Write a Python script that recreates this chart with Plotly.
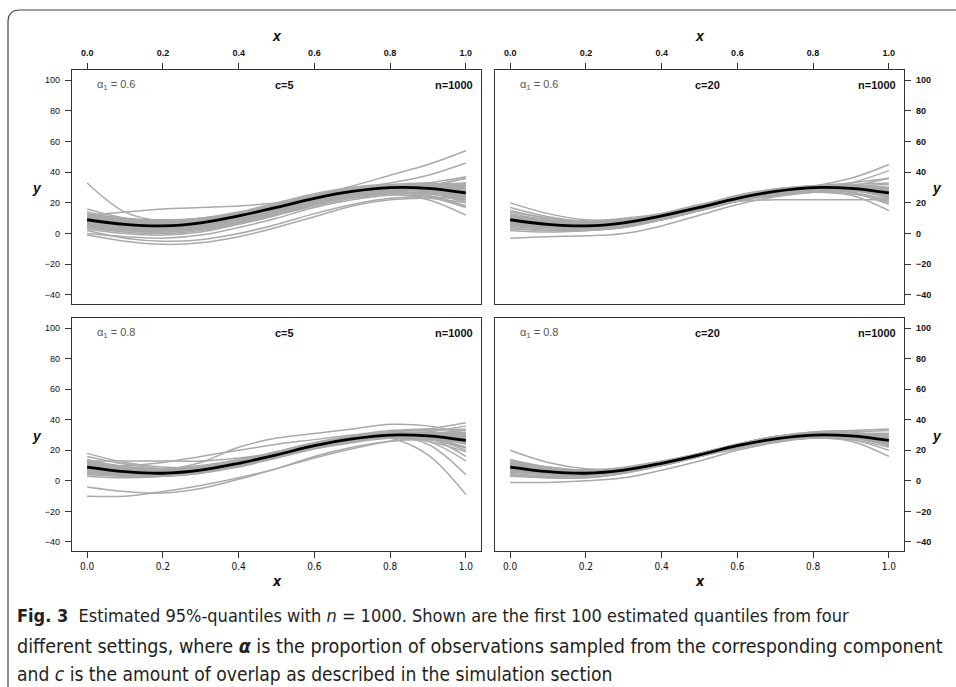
import plotly.graph_objects as go

W, H = 956, 687

# ---------------- data ----------------
x_grid = [0.0, 0.1, 0.2, 0.3, 0.4, 0.5, 0.6, 0.7, 0.8, 0.9, 1.0]
true_quantile = [9, 6, 5, 7, 11.5, 17, 23, 27.5, 30, 29.5, 26.5]

# alpha1 = 0.6, c = 5
est_a06_c5 = [
    [33, 14, 8, 8, 11, 16, 22, 26, 29, 29, 28],
    [16, 10, 8, 9, 12, 16, 21, 25, 28, 30, 33],
    [12, 14, 16, 17, 18, 20, 22, 25, 28, 31, 36],
    [2, -3, -5, -4, 0, 6, 13, 19, 23, 24, 22],
    [-1, -5, -7, -6, -2, 4, 11, 18, 22, 23, 20],
    [5, 2, 1, 3, 7, 13, 19, 24, 27, 28, 26],
    [8, 5, 4, 6, 10, 16, 22, 27, 30, 32, 33],
    [11, 7, 6, 8, 12, 18, 24, 29, 32, 33, 31],
    [6, 3, 2, 4, 8, 14, 21, 26, 29, 29, 25],
    [10, 6, 5, 7, 11, 17, 23, 27, 29, 27, 21],
    [7, 4, 3, 5, 9, 15, 21, 25, 27, 25, 18],
    [12, 8, 7, 9, 13, 18, 24, 28, 30, 29, 24],
    [4, 1, 0, 2, 6, 12, 18, 23, 26, 27, 27],
    [9, 6, 5, 7, 11, 17, 23, 28, 31, 33, 37],
    [14, 9, 7, 8, 11, 16, 21, 25, 28, 31, 36],
    [3, 0, -1, 1, 6, 12, 19, 24, 27, 26, 22],
    [8, 5, 4, 6, 10, 15, 21, 25, 27, 26, 23],
    [10, 7, 7, 9, 13, 19, 25, 29, 31, 30, 26],
    [6, 4, 4, 6, 10, 15, 20, 24, 27, 29, 30],
    [11, 7, 5, 6, 9, 14, 20, 25, 28, 28, 25],
    [10, 7, 7, 9, 13, 19, 25, 31, 38, 45, 54],
    [12, 9, 8, 10, 14, 20, 26, 30, 33, 38, 46],
    [0, -2, -3, -1, 4, 10, 17, 22, 25, 24, 18],
    [5, 3, 3, 5, 9, 14, 20, 24, 26, 22, 12],
    [7, 5, 5, 7, 11, 17, 22, 26, 27, 24, 17],
    [10, 8, 8, 10, 13, 18, 23, 27, 30, 31, 30],
    [13, 10, 9, 10, 13, 18, 23, 27, 29, 28, 23],
    [4, 2, 1, 3, 7, 13, 20, 25, 28, 30, 32],
    [8, 4, 2, 3, 7, 13, 20, 26, 29, 30, 28],
    [6, 5, 5, 8, 12, 18, 24, 28, 29, 27, 20],
    [9.5, 6.5, 5.5, 7.5, 11.5, 17.5, 23.5, 28, 30.5, 30, 27],
    [7.5, 4.5, 3.5, 5.5, 10, 16, 22, 26.5, 29, 28.5, 25],
    [10.5, 7.5, 6.5, 8.5, 12.5, 18, 24, 28.5, 31, 31, 29],
    [8.5, 5.5, 4.5, 6.5, 11, 16.5, 22.5, 27, 29.5, 29.5, 28],
    [11.5, 8.5, 7.5, 9, 12.5, 17.5, 23, 27.5, 30, 29, 24.5],
    [6.5, 3.5, 2.5, 4.5, 9, 15, 21.5, 26.5, 29.5, 30.5, 31],
    [9, 5.5, 4, 5.5, 9.5, 15.5, 22, 27, 30, 30, 27.5],
    [12.5, 9.5, 8, 9.5, 13, 18.5, 24.5, 28.5, 30.5, 29.5, 26],
    [5.5, 2.5, 1.5, 3.5, 8, 14.5, 21, 26, 28.5, 28, 24],
    [8, 5.5, 5, 7, 11.5, 17.5, 23.5, 28, 30.5, 31.5, 32.5],
    [10, 6.5, 5.5, 7, 11, 16.5, 22.5, 27.5, 30.5, 31.5, 31],
    [7, 4.5, 4, 6, 10.5, 16.5, 22.5, 27, 29, 27.5, 22.5],
]

# alpha1 = 0.6, c = 20
est_a06_c20 = [
    [20, 13, 9, 9, 12, 17, 23, 27, 30, 30, 28],
    [-3, -2, -1.5, 0, 5, 12, 19, 24, 27, 28, 26],
    [15, 10, 8, 9, 13, 18, 24, 28, 31, 33, 36],
    [5, 3, 3, 5, 9, 15, 21, 26, 28, 28, 24],
    [12, 8, 6, 8, 12, 17, 23, 28, 30, 30, 27],
    [8, 5, 4, 6, 10, 16, 22, 27, 29, 29, 25],
    [10, 7, 6, 8, 12, 18, 24, 29, 31, 31, 29],
    [6, 4, 4, 6, 10, 16, 22, 26, 28, 27, 22],
    [9, 6, 5, 7, 11, 17, 23, 27, 30, 31, 32],
    [3, 2, 2, 4, 9, 15, 21, 26, 29, 29, 26],
    [11, 7, 5, 6, 10, 16, 22, 27, 30, 29, 24],
    [7, 5, 5, 7, 11, 16, 22, 26, 29, 30, 30],
    [13, 9, 7, 8, 12, 17, 23, 27, 29, 27, 20],
    [9, 6, 5, 7, 12, 18, 25, 29, 31, 30, 26],
    [4, 2, 2, 5, 10, 16, 22, 25, 27, 25, 15],
    [10, 7, 6, 8, 11, 16, 22, 26, 29, 31, 36],
    [8, 6, 5, 7, 11, 17, 23, 28, 31, 36, 45],
    [9, 7, 7, 9, 12, 17, 22, 26, 29, 33, 41],
    [6, 4, 3, 5, 9, 15, 21, 26, 29, 29, 27],
    [12, 9, 7, 8, 12, 17, 23, 28, 31, 31, 28],
    [2, 1, 2, 4, 9, 15, 21, 25, 28, 28, 25],
    [14, 10, 7, 8, 11, 16, 21, 25, 27, 26, 21],
    [9, 7, 6, 7, 10, 15, 21, 26, 29, 30, 28],
    [7, 5, 5, 8, 13, 19, 24, 28, 29, 27, 19],
    [10, 8, 8, 10, 13, 18, 23, 27, 30, 32, 33],
    [17, 11, 8, 8, 11, 16, 22, 27, 30, 30, 26],
    [8, 6, 6, 8, 12, 18, 24, 28, 30, 29, 23],
    [5, 4, 4, 6, 10, 16, 22, 27, 30, 31, 30],
    [8, 6, 6, 8, 12, 17, 21, 22, 22, 22, 22],
    [9.5, 6.5, 5.5, 7.5, 11.5, 17.5, 23.5, 28, 30.5, 30, 27],
    [8.5, 5.5, 4.5, 6.5, 11, 16.5, 22.5, 27, 29.5, 29, 26],
    [10.5, 7, 6, 7.5, 11.5, 17, 23, 27.5, 30, 30, 28],
    [7.5, 5, 4.5, 6.5, 10.5, 16.5, 22.5, 27, 29.5, 29.5, 27.5],
    [11, 7.5, 6, 7.5, 11.5, 17.5, 23.5, 28, 30.5, 30.5, 27],
    [6.5, 4.5, 4, 6, 10.5, 16, 22, 26.5, 29, 28.5, 24.5],
    [9, 6.5, 6, 8, 12, 17.5, 23.5, 28, 30, 29, 25],
    [10, 6.5, 5, 6.5, 10.5, 16.5, 22.5, 27.5, 30.5, 31, 30],
    [8, 5.5, 5, 7, 11.5, 17, 23, 27.5, 29.5, 28.5, 24],
    [9, 6, 5, 6.5, 10.5, 16, 22, 27, 30, 30.5, 29],
    [11.5, 8, 6.5, 8, 12, 17.5, 23, 27.5, 29.5, 28.5, 23],
    [7, 5, 4.5, 6.5, 11, 17, 23.5, 28.5, 31, 30.5, 26.5],
]

# alpha1 = 0.8, c = 5
est_a08_c5 = [
    [-10, -10, -7, -3, 2, 8, 15, 21, 26, 28, 27],
    [-4, -7, -8, -5, 1, 8, 16, 22, 26, 27, 25],
    [18, 12, 9, 9, 12, 17, 22, 26, 29, 30, 29],
    [8, 5, 7, 12, 22, 28, 31, 34, 37, 36, 31],
    [10, 10, 12, 16, 20, 24, 27, 30, 33, 34, 33],
    [6, 4, 4, 7, 12, 19, 25, 29, 28, 17, -9],
    [9, 6, 5, 7, 12, 18, 24, 28, 29, 24, 4],
    [7, 5, 5, 7, 11, 17, 23, 27, 29, 26, 13],
    [11, 8, 7, 9, 13, 18, 23, 28, 31, 32, 30],
    [5, 3, 3, 6, 10, 16, 22, 27, 30, 31, 28],
    [14, 9, 7, 8, 11, 16, 22, 27, 30, 30, 27],
    [8, 6, 6, 8, 12, 18, 24, 29, 32, 34, 38],
    [10, 7, 6, 8, 12, 17, 23, 27, 30, 32, 36],
    [4, 3, 3, 6, 10, 16, 22, 26, 28, 27, 22],
    [12, 8, 6, 7, 11, 16, 22, 27, 31, 31, 26],
    [6, 5, 5, 8, 12, 17, 23, 27, 28, 26, 19],
    [9, 7, 6, 8, 12, 17, 22, 26, 29, 31, 33],
    [16, 11, 8, 8, 11, 16, 21, 25, 28, 28, 25],
    [7, 4, 3, 5, 10, 16, 23, 28, 31, 30, 24],
    [10, 8, 7, 9, 13, 19, 25, 29, 31, 29, 22],
    [3, 2, 3, 5, 9, 15, 21, 26, 28, 29, 29],
    [8, 6, 5, 7, 11, 17, 23, 28, 30, 28, 20],
    [12, 9, 8, 10, 14, 19, 24, 28, 30, 29, 27],
    [6, 4, 4, 6, 10, 15, 21, 26, 29, 30, 31],
    [9, 6, 5, 7, 11, 17, 24, 29, 32, 33, 34],
    [13, 13, 13, 13, 15, 18, 22, 26, 29, 30, 28],
    [5, 5, 5, 7, 11, 16, 22, 26, 29, 28, 16],
    [9.5, 6.5, 5.5, 7.5, 12, 17.5, 23.5, 28, 30.5, 30, 27],
    [7.5, 5, 4, 6, 10.5, 16.5, 22.5, 27, 29.5, 29, 25.5],
    [11, 7.5, 6.5, 8, 12, 17.5, 23, 27.5, 30, 30.5, 29.5],
    [8.5, 5.5, 4.5, 6.5, 11, 16.5, 22.5, 27.5, 30.5, 31, 30],
    [12, 8.5, 7, 8.5, 12.5, 18, 23.5, 28, 30, 29, 24],
    [6, 4, 3.5, 5.5, 10, 16, 22.5, 27.5, 30, 29.5, 26],
    [10, 7, 6, 7.5, 11.5, 17, 23, 27.5, 30, 29.5, 26.5],
    [13, 9.5, 7.5, 8.5, 12, 17, 22.5, 27, 29.5, 29.5, 28],
    [5, 3.5, 3.5, 5.5, 10, 16, 22, 26.5, 29, 28.5, 25],
    [8, 6, 5.5, 7.5, 12, 18, 24, 28.5, 31, 31.5, 31.5],
    [9, 6, 5, 6.5, 10.5, 16, 22, 27, 30, 30.5, 29],
    [10.5, 7.5, 6.5, 8, 11.5, 17, 23, 27, 29, 27.5, 21.5],
]

# alpha1 = 0.8, c = 20
est_a08_c20 = [
    [20, 12, 8, 8, 12, 17, 23, 28, 30, 30, 27],
    [-1, -1, 0, 2, 7, 13, 20, 25, 28, 28, 25],
    [14, 9, 7, 8, 12, 17, 23, 28, 31, 31, 29],
    [4, 2, 2, 5, 10, 16, 22, 26, 28, 27, 22],
    [9, 6, 5, 7, 11, 17, 23, 28, 31, 32, 33],
    [7, 5, 4, 6, 10, 16, 22, 27, 30, 30, 27],
    [11, 8, 6, 8, 12, 18, 24, 29, 31, 30, 25],
    [6, 4, 4, 6, 11, 17, 23, 27, 29, 28, 24],
    [12, 8, 6, 7, 11, 16, 22, 27, 30, 31, 31],
    [8, 6, 5, 7, 11, 17, 23, 28, 30, 29, 26],
    [10, 7, 6, 8, 12, 18, 24, 29, 32, 33, 34],
    [5, 3, 3, 6, 10, 16, 22, 27, 30, 30, 28],
    [13, 9, 7, 8, 12, 17, 22, 26, 28, 27, 20],
    [9, 6, 5, 7, 11, 17, 24, 29, 32, 32, 28],
    [3, 2, 2, 5, 10, 16, 22, 26, 28, 26, 16],
    [10, 7, 6, 8, 11, 16, 22, 27, 30, 31, 30],
    [7, 5, 5, 7, 12, 18, 23, 27, 29, 28, 23],
    [8, 5, 4, 6, 10, 16, 23, 28, 31, 31, 29],
    [11, 8, 7, 9, 13, 18, 24, 28, 30, 29, 24],
    [6, 5, 5, 7, 11, 16, 21, 26, 28, 28, 26],
    [9, 7, 6, 8, 12, 18, 24, 29, 31, 30, 27],
    [12, 9, 7, 8, 11, 16, 22, 27, 29, 29, 27],
    [4, 3, 4, 6, 11, 17, 23, 27, 29, 29, 27],
    [10, 7, 6, 7, 11, 17, 23, 28, 30, 30, 29],
    [9, 6.5, 5.5, 7, 11.5, 17.5, 23.5, 28.5, 31, 30.5, 27.5],
    [8, 5.5, 5, 7, 11, 16.5, 22.5, 27, 29, 28.5, 25.5],
    [10.5, 7.5, 6.5, 8, 12, 17, 23, 27.5, 30, 30, 28.5],
    [7, 5, 4.5, 6.5, 10.5, 16.5, 23, 27.5, 30, 30, 28],
    [11.5, 8, 6.5, 8, 12, 17.5, 23.5, 28, 30, 29.5, 26],
    [6, 4.5, 4, 6.5, 11, 16.5, 22.5, 26.5, 28.5, 28, 25],
    [9.5, 7, 6, 7.5, 11.5, 17, 23, 27.5, 30, 29, 24.5],
    [10, 6.5, 5, 6.5, 10.5, 16.5, 22.5, 27.5, 30.5, 31, 31],
    [8.5, 6, 5.5, 7.5, 12, 17.5, 23, 27, 29, 28, 24.5],
    [9, 6, 5, 6.5, 10.5, 16, 22, 27, 30, 30.5, 29.5],
    [12, 8.5, 7, 8.5, 12.5, 18, 23.5, 27.5, 29.5, 28.5, 23.5],
    [7.5, 5, 4.5, 6.5, 11, 17, 23.5, 28.5, 31, 31, 28],
]

panel_curves = [est_a06_c5, est_a06_c20, est_a08_c5, est_a08_c20]
alpha_labels = ["0.6", "0.6", "0.8", "0.8"]
c_labels = ["c=5", "c=20", "c=5", "c=20"]
n_label = "n=1000"
x_ticks = [0.0, 0.2, 0.4, 0.6, 0.8, 1.0]
y_ticks = [-40, -20, 0, 20, 40, 60, 80, 100]

caption_lines = [
    "<b>Fig. 3</b>  Estimated 95%-quantiles with <i>n</i> = 1000. Shown are the first 100 estimated quantiles from four",
    "different settings, where <b><i>α</i></b> is the proportion of observations sampled from the corresponding component",
    "and <i>c</i> is the amount of overlap as described in the simulation section",
]

# ---------------- styling / layout ----------------
SANS = "Liberation Sans, Arial, Helvetica, sans-serif"
NARROW = "Liberation Sans Narrow, DejaVu Sans Condensed, Roboto Condensed, Liberation Sans, sans-serif"
AX = "#333333"
GRAY = "rgb(170,170,170)"

def px_x(v):
    return v / W

def px_y(v):
    return 1 - v / H

# panel boxes in pixels: (left, right, top, bottom)
boxes = [(72, 481, 70, 304), (495, 904, 70, 304), (72, 481, 318, 551), (495, 904, 318, 551)]
X_RANGE = [-0.04, 1.04]
Y_RANGE = [-45.9, 106.6]

fig = go.Figure()

for i, curves in enumerate(panel_curves):
    xa = "x" if i == 0 else f"x{i+1}"
    ya = "y" if i == 0 else f"y{i+1}"
    for c in curves:
        fig.add_trace(go.Scatter(x=x_grid, y=c, mode="lines", xaxis=xa, yaxis=ya,
                                 line=dict(color=GRAY, width=1.5, shape="spline", smoothing=1.0),
                                 hoverinfo="skip", showlegend=False))
    fig.add_trace(go.Scatter(x=x_grid, y=true_quantile, mode="lines", xaxis=xa, yaxis=ya,
                             line=dict(color="black", width=2.8, shape="spline", smoothing=1.0),
                             hoverinfo="skip", showlegend=False))

layout = dict(width=W, height=H, margin=dict(l=0, r=0, t=0, b=0),
              paper_bgcolor="white", plot_bgcolor="white", showlegend=False)

for i, (l, r, t, b) in enumerate(boxes):
    sx = "" if i == 0 else str(i + 1)
    top_row = i < 2
    left_col = i % 2 == 0
    xaxis = dict(domain=[px_x(l), px_x(r)], range=X_RANGE, anchor="y" + sx,
                 side="top" if top_row else "bottom",
                 tickvals=x_ticks, ticktext=[f"{v:.1f}" for v in x_ticks],
                 ticks="outside", ticklen=6, tickwidth=1, tickcolor=AX,
                 showline=True, mirror=True, linecolor=AX, linewidth=1.4,
                 showgrid=False, zeroline=False,
                 tickfont=(dict(family=SANS, size=9, color="#111", weight="bold") if top_row
                           else dict(family=NARROW, size=10, color="#111")),
                 ticklabelstandoff=3 if top_row else 0)
    yaxis = dict(domain=[px_y(b), px_y(t)], range=Y_RANGE, anchor="x" + sx,
                 side="left" if left_col else "right",
                 tickvals=y_ticks, ticktext=[str(v).replace("-", "\u2212") for v in y_ticks],
                 ticks="outside", ticklen=6, tickwidth=1, tickcolor=AX,
                 showline=True, mirror=True, linecolor=AX, linewidth=1.4,
                 showgrid=False, zeroline=False,
                 tickfont=(dict(family=SANS, size=9, color="#111") if left_col
                           else dict(family=SANS, size=9, color="#111", weight="bold")),
                 ticklabelstandoff=3)
    layout["xaxis" + sx] = xaxis
    layout["yaxis" + sx] = yaxis

fig.update_layout(**layout)

annotations = []
for i in range(4):
    sx = "" if i == 0 else str(i + 1)
    xr, yr = "x" + sx, "y" + sx
    annotations.append(dict(x=0.02, y=96.5, xref=xr, yref=yr, xanchor="left", yanchor="middle",
                            text=f"α<sub>1</sub> = {alpha_labels[i]}", showarrow=False,
                            font=dict(family=SANS, size=11, color="#555")))
    annotations.append(dict(x=0.52, y=96.5, xref=xr, yref=yr, xanchor="center", yanchor="middle",
                            text=c_labels[i], showarrow=False,
                            font=dict(family=SANS, size=11, color="#111", weight="bold")))
    annotations.append(dict(x=1.025, y=96.5, xref=xr, yref=yr, xanchor="right", yanchor="middle",
                            text=n_label, showarrow=False,
                            font=dict(family=SANS, size=11, color="#111", weight="bold")))

# axis titles
for cx in (276.5, 699.5):
    annotations.append(dict(x=px_x(cx), y=px_y(36), xref="paper", yref="paper",
                            text="<i>x</i>", showarrow=False, xanchor="center", yanchor="middle",
                            font=dict(family=SANS, size=14, color="#111", weight="bold")))
    annotations.append(dict(x=px_x(cx), y=px_y(581), xref="paper", yref="paper",
                            text="<i>x</i>", showarrow=False, xanchor="center", yanchor="middle",
                            font=dict(family=NARROW, size=14, color="#111", weight="bold")))
for cy in (188, 436):
    annotations.append(dict(x=px_x(37), y=px_y(cy), xref="paper", yref="paper",
                            text="<i>y</i>", showarrow=False, xanchor="center", yanchor="middle",
                            font=dict(family=SANS, size=14, color="#111", weight="bold")))
    annotations.append(dict(x=px_x(937), y=px_y(cy), xref="paper", yref="paper",
                            text="<i>y</i>", showarrow=False, xanchor="center", yanchor="middle",
                            font=dict(family=SANS, size=14, color="#111", weight="bold")))

# caption
for line, cy, fs in zip(caption_lines, (615, 646, 674), (18, 19.6, 19.1)):
    annotations.append(dict(x=px_x(15), y=px_y(cy), xref="paper", yref="paper",
                            text=line, showarrow=False, xanchor="left", yanchor="middle",
                            font=dict(family=NARROW, size=fs, color="#231f20")))

fig.update_layout(annotations=annotations)

# outer rounded frame
x0, y0, rad = 8, 10, 12
path = (f"M {px_x(x0)},{px_y(700)} L {px_x(x0)},{px_y(y0 + rad)} "
        f"Q {px_x(x0)},{px_y(y0)} {px_x(x0 + rad)},{px_y(y0)} L {px_x(980)},{px_y(y0)}")
fig.add_shape(type="path", path=path, xref="paper", yref="paper",
              line=dict(color="#444", width=1.2))

fig.write_html("out.html")
